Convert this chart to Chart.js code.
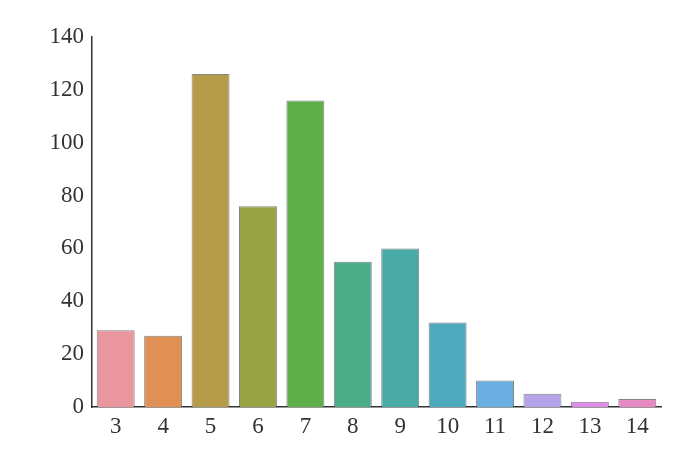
<!DOCTYPE html>
<html>
<head>
<meta charset="utf-8">
<script src="https://cdn.jsdelivr.net/npm/chart.js@4/dist/chart.umd.min.js"></script>
<style>
  html, body { margin: 0; padding: 0; background: #fff; }
  canvas { display: block; }
</style>
</head>
<body>
<canvas id="qualityChart" width="675" height="452"></canvas>
<script>
// categories and counts
const categories = ['3', '4', '5', '6', '7', '8', '9', '10', '11', '12', '13', '14'];
const counts = [29, 27, 126, 76, 116, 55, 60, 32, 10, 5, 2, 3];
const yTicks = [0, 20, 40, 60, 80, 100, 120, 140];
const barColors = [
    '#e9969f', '#e09055', '#b69c4a', '#98a346', '#5faf4a', '#4bae88',
    '#4aaaa6', '#4ea9bd', '#6aaee2', '#b5a5e8', '#de8de8', '#e78ac4'
];

const fontFamily = '"Liberation Serif", "DejaVu Serif", serif';

const ctx = document.getElementById('qualityChart').getContext('2d');

new Chart(ctx, {
    type: 'bar',
    data: {
        labels: categories,
        datasets: [{
            data: counts,
            backgroundColor: barColors,
            borderColor: 'rgba(50, 50, 50, 0.6)',
            borderWidth: 1,
            barPercentage: 0.8,
            categoryPercentage: 1.0
        }]
    },
    options: {
        responsive: false,
        animation: false,
        layout: { padding: { left: 0, right: 14, top: 37, bottom: 0 } },
        plugins: {
            legend: { display: false },
            tooltip: { enabled: false }
        },
        scales: {
            x: {
                grid: { display: false },
                border: { display: true, color: '#333', width: 1.5 },
                ticks: {
                    color: '#333',
                    padding: -2,
                    maxRotation: 0,
                    font: { family: fontFamily, size: 23 }
                },
                afterFit: (scale) => { scale.height = 45; }
            },
            y: {
                min: 0,
                max: 140,
                grid: { display: false },
                border: { display: true, color: '#333', width: 1.5 },
                afterBuildTicks: (scale) => {
                    scale.ticks = yTicks.map(v => ({ value: v }));
                },
                ticks: {
                    color: '#333',
                    padding: 0,
                    font: { family: fontFamily, size: 23 }
                },
                afterFit: (scale) => { scale.width = 92; }
            }
        }
    }
});
</script>
</body>
</html>
